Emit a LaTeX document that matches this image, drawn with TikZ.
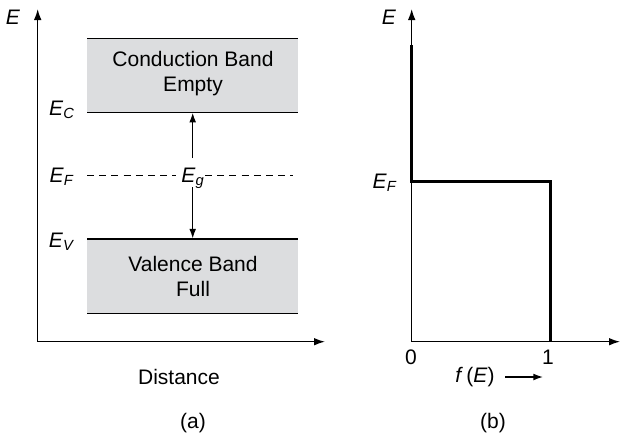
\documentclass[tikz,border=0pt]{standalone}
\usepackage{fontspec}
\setmainfont{Liberation Sans}
\usetikzlibrary{arrows.meta}
\definecolor{bandgray}{RGB}{220,221,223}
\tikzset{
  axis/.style={line width=0.7pt,-{Latex[length=5.5pt,width=3.8pt]}},
  gaparrow/.style={line width=0.65pt,-{Latex[length=4.8pt,width=3.4pt]}},
  bandline/.style={line width=0.75pt},
  fline/.style={line width=1.5pt,line cap=butt,line join=miter},
  lbl/.style={inner sep=0pt,font=\fontsize{10.5}{12.5}\selectfont},
  band/.style={fill=bandgray,draw=none},
}
\newcommand{\ital}[1]{\textit{#1}}
\newcommand{\isub}[2]{\textit{#1}\textsubscript{\textit{#2}}}
\begin{document}
\begin{tikzpicture}[x=0.5pt,y=-0.5pt]
\useasboundingbox (0,0) rectangle (621,435);
% ---------- panel (a) ----------
\coordinate (aO) at (37.7,341.7);
\coordinate (aY) at (37.7,9);
\coordinate (aX) at (325,341.7);
\draw[axis] (aO) -- (aY);
\draw[axis] (aO) -- (aX);
% bands
\fill[band] (87,38.3) rectangle (298,112.7);
\draw[bandline] (87,38.3) -- (298,38.3);
\draw[bandline] (87,112.7) -- (298,112.7);
\fill[band] (87,239) rectangle (298,313.3);
\draw[bandline] (87,239) -- (298,239);
\draw[bandline] (87,313.3) -- (298,313.3);
\node[lbl,align=center] (cb) at (193,74) {Conduction Band\\Empty};
\node[lbl,align=center] (vb) at (193,276) {Valence Band\\Full};
% Fermi level
\draw[line width=0.6pt,dash pattern=on 3.5pt off 2.6pt] (87,175.5) -- (176,175.5);
\draw[line width=0.6pt,dash pattern=on 3.5pt off 2.6pt] (205,175.5) -- (293,175.5);
\node[lbl] (Eg) at (193,178) {\isub{E}{g}};
\coordinate (ctop) at (192.7,112.7);
\coordinate (vtop) at (192.7,238.5);
\coordinate (g1) at (192.7,158);
\coordinate (g2) at (192.7,187);
\draw[gaparrow] (g1) -- (ctop);
\draw[gaparrow] (g2) -- (vtop);
% labels
\node[lbl] (aE) at (13,17) {\ital{E}};
\node[lbl] (EC) at (62,110) {\isub{E}{C}};
\node[lbl] (EF) at (62,177) {\isub{E}{F}};
\node[lbl] (EV) at (62,242) {\isub{E}{V}};
\node[lbl] (dist) at (179,377) {Distance};
\node[lbl] (capa) at (193,423) {(a)};
% ---------- panel (b) ----------
\coordinate (bO) at (411.7,341.7);
\coordinate (bY) at (411.7,9);
\coordinate (bX) at (620,341.7);
\draw[axis] (bO) -- (bY);
\draw[axis] (bO) -- (bX);
\draw[fline] (411.7,45) -- (411.7,181) -- (550,181) -- (550,341.7);
\node[lbl] (bE) at (389,17) {\ital{E}};
\node[lbl] (bEF) at (385,183) {\isub{E}{F}};
\node[lbl] (zero) at (411,357) {0};
\node[lbl] (one) at (548,357) {1};
\node[lbl] (fE) at (475,377) {\ital{f}\,(\ital{E})};
\coordinate (fa1) at (505,377);
\coordinate (fa2) at (543,377);
\draw[gaparrow] (fa1) -- (fa2);
\node[lbl] (capb) at (493,423) {(b)};
\end{tikzpicture}
\end{document}
